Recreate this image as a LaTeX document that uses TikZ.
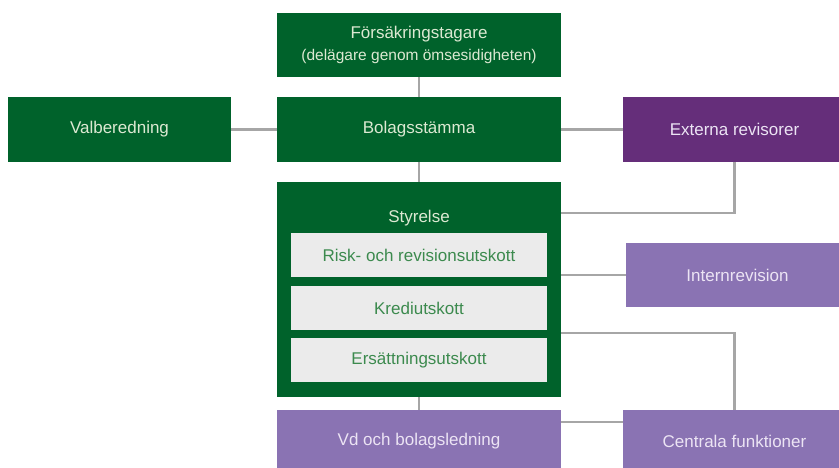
\documentclass[tikz,border=0pt]{standalone}
\usepackage{fontspec}
\setmainfont{Liberation Sans}
\definecolor{dgreen}{HTML}{00622B}
\definecolor{dpurple}{HTML}{652E7A}
\definecolor{lpurple}{HTML}{8A73B3}
\definecolor{ingrey}{HTML}{EBEBEB}
\definecolor{gtext}{HTML}{DCE9D2}
\definecolor{ptext}{HTML}{ECE4F4}
\definecolor{itext}{HTML}{3C8A4E}
\definecolor{lineg}{HTML}{A6A6A6}
\begin{document}
\begin{tikzpicture}[x=1pt,y=-1pt,
  base/.style={rectangle, inner sep=0pt, outer sep=0pt, font=\fontsize{17}{20}\selectfont, align=center},
  greenbox/.style={base, fill=dgreen, text=gtext},
  dpbox/.style={base, fill=dpurple, text=ptext},
  lpbox/.style={base, fill=lpurple, text=ptext},
  innerbox/.style={base, fill=ingrey, text=itext, minimum width=256pt, minimum height=44pt},
  conn/.style={draw=lineg, line width=2.2pt}]
\useasboundingbox (0,0) rectangle (839,468);

\coordinate (y1) at (0,213);
\coordinate (y2) at (0,333);
\coordinate (y3) at (0,422);

\node[greenbox, minimum width=284pt, minimum height=64pt] (fors) at (419,45)
  {Försäkringstagare\\[2pt]{\fontsize{15.5}{18}\selectfont (delägare genom ömsesidigheten)}};
\node[greenbox, minimum width=284pt, minimum height=65pt] (bolag) at (419,129.5) {Bolagsstämma};
\node[greenbox, minimum width=223pt, minimum height=65pt] (valb) at (119.5,129.5) {Valberedning};
\node[dpbox, minimum width=223pt, minimum height=65pt] (ext) at (734.5,129.5) {Externa revisorer};
\node[greenbox, minimum width=284pt, minimum height=215pt] (styr) at (419,289.5) {};
\node[base, text=gtext] (styrlab) at (419,218) {Styrelse};
\node[innerbox] (risk) at (419,255) {Risk- och revisionsutskott};
\node[innerbox] (kred) at (419,308) {Krediutskott};
\node[innerbox] (ers) at (419,360) {Ersättningsutskott};
\node[lpbox, minimum width=223pt, minimum height=64pt] (intern) at (737.5,275) {Internrevision};
\node[lpbox, minimum width=284pt, minimum height=64pt] (vd) at (419,441.5) {Vd och bolagsledning};
\node[lpbox, minimum width=223pt, minimum height=64pt] (centr) at (734.5,441.5) {Centrala funktioner};

\draw[conn] (fors.south) -- (bolag.north);
\draw[conn] (valb.east) -- (bolag.west);
\draw[conn] (bolag.east) -- (ext.west);
\draw[conn] (bolag.south) -- (styr.north);
\draw[conn] (ext.south) |- (styr.east |- y1);
\draw[conn] (styr.east |- intern.west) -- (intern.west);
\draw[conn] (styr.east |- y2) -| (centr.north);
\draw[conn] (styr.south) -- (vd.north);
\draw[conn] (vd.east |- y3) -- (centr.west |- y3);
\end{tikzpicture}
\end{document}
